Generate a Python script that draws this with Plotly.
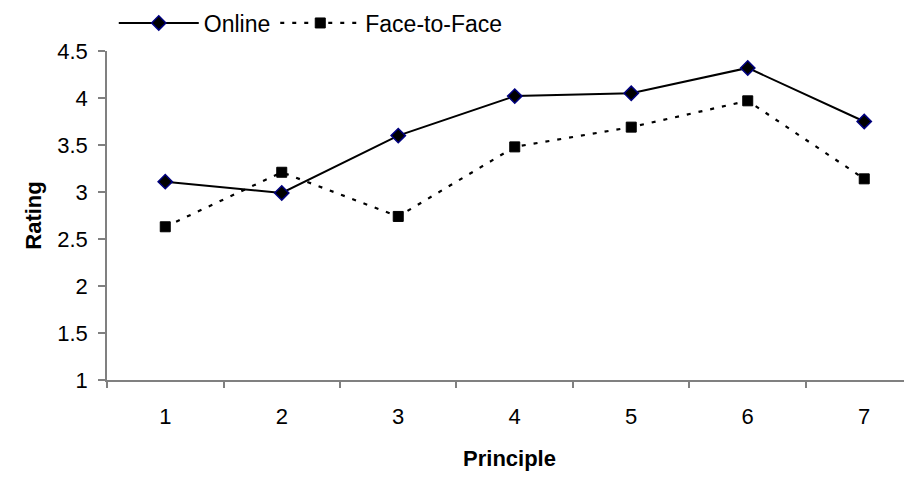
import plotly.graph_objects as go

principles = [1, 2, 3, 4, 5, 6, 7]
tick_labels = ["1", "2", "3", "4", "5", "6", "7"]
online = [3.11, 2.99, 3.60, 4.02, 4.05, 4.32, 3.75]
face_to_face = [2.63, 3.21, 2.74, 3.48, 3.69, 3.97, 3.14]
y_ticks = [1, 1.5, 2, 2.5, 3, 3.5, 4, 4.5]
y_tick_labels = ["1", "1.5", "2", "2.5", "3", "3.5", "4", "4.5"]

font_family = "Liberation Sans, Arial, sans-serif"
axis_grey = "#808080"

fig = go.Figure()
fig.add_trace(go.Scatter(
    x=principles, y=online, name="Online", mode="lines+markers",
    line=dict(color="black", width=2),
    marker=dict(symbol="diamond", size=11, color="black",
                line=dict(color="#000080", width=1.5)),
))
fig.add_trace(go.Scatter(
    x=principles, y=face_to_face, name="Face-to-Face", mode="lines+markers",
    line=dict(color="black", width=2.2, dash="4px,8px"),
    marker=dict(symbol="square", size=10, color="black",
                line=dict(color="black", width=1)),
))

# the page adds an 8px body margin, so the figure is sized/placed to compensate
fig.update_layout(
    width=904, height=469,
    margin=dict(l=99, r=0, t=43, b=97, autoexpand=False),
    paper_bgcolor="white", plot_bgcolor="white",
    font=dict(family=font_family, size=22, color="black"),
    showlegend=True,
    legend=dict(orientation="h", xref="container", yref="container",
                x=0.117, y=0.968, xanchor="left", yanchor="middle",
                itemwidth=80, font=dict(size=23), bgcolor="rgba(0,0,0,0)",
                itemsizing="trace"),
    xaxis=dict(
        range=[0.5, 7.41], tickvals=principles, ticktext=tick_labels,
        ticks="", showline=True, linecolor=axis_grey, linewidth=1.5,
        showgrid=False, zeroline=False, automargin=False,
        minor=dict(tickvals=[0.5, 1.5, 2.5, 3.5, 4.5, 5.5, 6.5, 7.5],
                   ticks="outside", ticklen=6, tickcolor=axis_grey, tickwidth=1.5,
                   showgrid=False),
        title=dict(text="<b>Principle</b>", font=dict(size=22), standoff=22),
        ticklabelstandoff=16,
    ),
    yaxis=dict(
        range=[1, 4.5], tickvals=y_ticks, ticktext=y_tick_labels,
        ticks="outside", ticklen=7, tickcolor=axis_grey, tickwidth=1.5,
        showline=True, linecolor=axis_grey, linewidth=1.5,
        showgrid=False, zeroline=False, automargin=False,
        title=dict(text="<b>Rating</b>", font=dict(size=22), standoff=10),
        ticklabelstandoff=6,
    ),
)

fig.write_html("out.html")
